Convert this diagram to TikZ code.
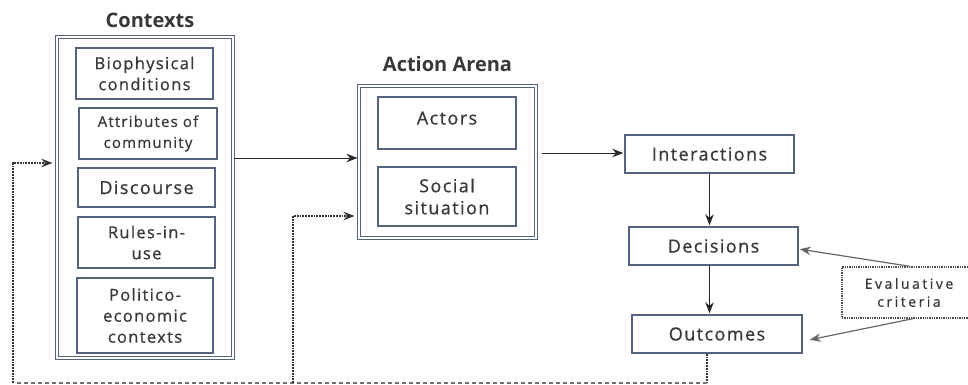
\documentclass[tikz,border=0pt]{standalone}
\usepackage{fontspec}
\setmainfont{Open Sans}
\newfontfamily\boxfont{Open Sans}[FakeBold=0.7,LetterSpace=8]
\newfontfamily\evalfont{Open Sans}[FakeBold=0.7,LetterSpace=18]
\usetikzlibrary{arrows,arrows.meta}
\usetikzlibrary{positioning}
\definecolor{boxblue}{HTML}{55637E}
\definecolor{txtgray}{HTML}{383838}

\begin{document}
\begin{tikzpicture}[x=1pt,y=-1pt,->,>={Stealth[length=11pt,width=8.5pt]},shorten >=1pt,auto,
    thick,outer box/.style={draw=boxblue,double,double distance=1.2pt,line width=1.1pt,inner sep=0pt},
    inner box/.style={draw=boxblue,line width=1.5pt,fill=white,align=center,text=txtgray,font=\boxfont\fontsize{16.5}{21}\selectfont,inner sep=0pt},
    main box/.style={inner box,font=\boxfont\fontsize{18}{22}\selectfont},
    title node/.style={text=txtgray,font=\fontsize{20}{24}\selectfont\bfseries},
    eval box/.style={draw=black!70,densely dotted,line width=1.3pt,align=center,text=txtgray,font=\evalfont\fontsize{14}{18}\selectfont,inner sep=0pt},
    flow/.style={line width=1pt,black!85},
    feedback/.style={densely dotted,line width=1.8pt,black!80}]
  \useasboundingbox (0,0) rectangle (968,385);
  \clip (0,0) rectangle (968,385);
  \begin{scope}
    % contexts
    \node[outer box,minimum width=176pt,minimum height=321pt] (contexts) at (145,197.5) {};
    \node[title node,above=5pt of contexts,xshift=5pt] (contextsTitle) {Contexts};
    \node[inner box,minimum width=137pt,minimum height=51pt] (bio) at (144.5,73.5) {Biophysical\\conditions};
    \node[inner box,minimum width=138pt,minimum height=51pt,font=\boxfont\fontsize{15}{21}\selectfont] (attr) at (148,133.5) {Attributes of\\community};
    \node[inner box,minimum width=137pt,minimum height=39pt,font=\boxfont\fontsize{18}{22}\selectfont] (disc) at (146.5,187.5) {Discourse};
    \node[inner box,minimum width=137pt,minimum height=51pt] (rules) at (146.5,242.5) {Rules-in-\\use};
    \node[inner box,minimum width=136pt,minimum height=75pt] (polit) at (145,315.5) {Politico-\\economic\\contexts};

    % action arena
    \node[outer box,minimum width=177pt,minimum height=152pt] (arena) at (447.5,162) {};
    \node[title node,above=10pt of arena] (arenaTitle) {Action Arena};
    \node[main box,minimum width=138pt,minimum height=52pt,text depth=10pt] (actors) at (447,123) {Actors};
    \node[main box,minimum width=138pt,minimum height=59pt] (social) at (447,196.5) {Social\\situation};

    % outcomes side
    \node[main box,minimum width=169pt,minimum height=38pt] (inter) at (709.5,154) {Interactions};
    \node[main box,minimum width=169pt,minimum height=38pt] (dec) at (713.5,246) {Decisions};
    \node[main box,minimum width=170pt,minimum height=38pt] (out) at (717,334) {Outcomes};
    \node[eval box,minimum width=134pt,minimum height=51pt] (eval) at (909,292.5) {Evaluative\\criteria};

    \path[flow] ([yshift=4pt]contexts.east |- arena.west) edge ([yshift=4pt]arena.west);
    \path[flow,shorten <=5pt] ([yshift=1pt]arena.east |- inter.west) edge ([yshift=1pt]inter.west);
    \path[flow] (inter.south) edge (inter.south |- dec.north);
    \path[flow] (dec.south -| inter.south) edge (inter.south |- out.north);
    \path[flow,black!60,line width=1.2pt] ([xshift=1pt]eval.north) edge ([yshift=-3pt]dec.east);
    \path[flow,black!60,line width=1.2pt] ([xshift=4pt]eval.south) edge ([xshift=6pt,yshift=-6pt]out.east);

    % feedback loop
    \coordinate (fbR) at (707,383);
    \coordinate (fbM) at (293,383);
    \coordinate (fbL) at (13,383);
    \draw[feedback,-] (out.south -| fbR) -- (fbR);
    \draw[feedback,-,dash pattern=on 4pt off 3pt,black!55] (fbR) -- (fbL);
    \draw[feedback,shorten >=4pt] (fbL) |- ([yshift=34.5pt]contexts.west);
    \draw[feedback,shorten >=4pt] (fbM) |- ([yshift=-54pt]arena.west);
  \end{scope}
\end{tikzpicture}
\end{document}
